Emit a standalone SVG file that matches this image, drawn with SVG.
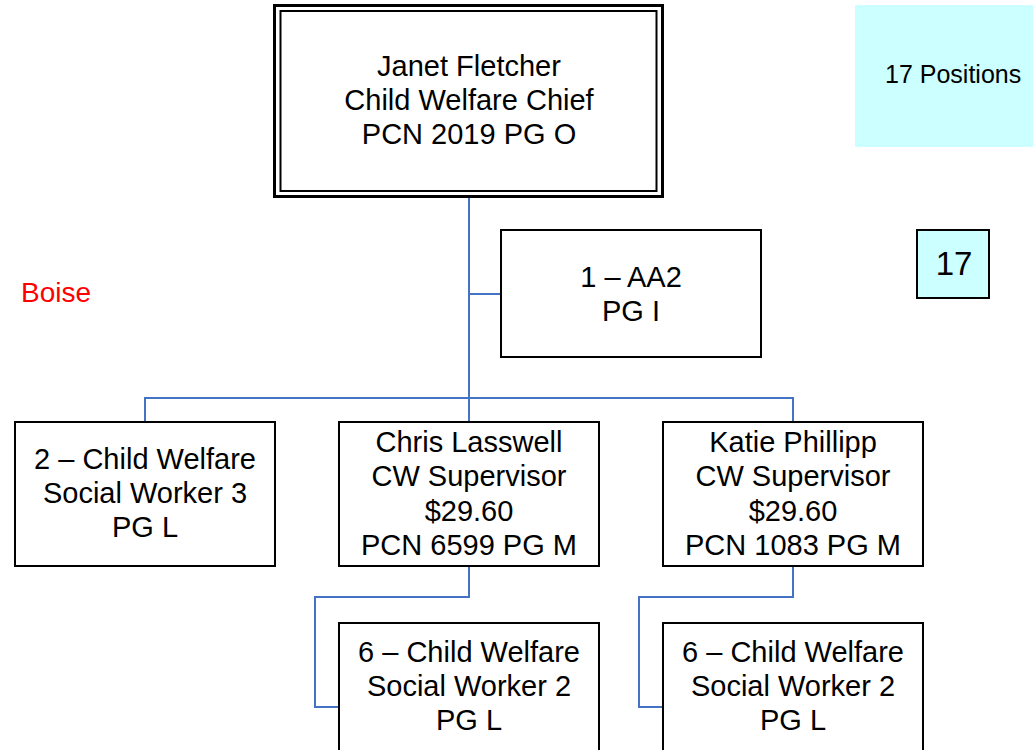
<svg xmlns="http://www.w3.org/2000/svg" width="1033" height="750" viewBox="0 0 1033 750">
  <style>
    .box { fill: #ffffff; stroke: #000000; stroke-width: 2; }
    .t { font-family: "Liberation Sans", Arial, sans-serif; font-size: 29px; fill: #000000; text-anchor: middle; }
    .conn { fill: none; stroke: #4472C4; stroke-width: 2; }
  </style>
  <rect width="1033" height="750" fill="#ffffff"/>

  <!-- reporting lines -->
  <g id="connectors">
    <path class="conn" d="M469,197 V422"/>
    <path class="conn" d="M469,294 H501"/>
    <path class="conn" d="M145,422 V398 H793 V422"/>
    <path class="conn" d="M469,566 V597 H315 V707 H339"/>
    <path class="conn" d="M793,566 V597 H639 V707 H663"/>
  </g>

  <g id="chief">
    <rect x="274.5" y="5.5" width="388" height="191" fill="#ffffff" stroke="#000" stroke-width="3"/>
    <rect x="280.5" y="11" width="376" height="180" fill="none" stroke="#000" stroke-width="2"/>
    <text class="t" x="469" y="76">Janet Fletcher</text>
    <text class="t" x="469" y="110">Child Welfare Chief</text>
    <text class="t" x="469" y="144">PCN 2019 PG O</text>
  </g>

  <g id="positions-note">
    <rect x="855" y="5" width="178" height="142" fill="#CCFFFF"/>
    <text x="885" y="83" font-family="Liberation Sans, Arial, sans-serif" font-size="25" fill="#000">17 Positions</text>
  </g>

  <g id="count">
    <rect x="917" y="230" width="72" height="68" fill="#CCFFFF" stroke="#000" stroke-width="2"/>
    <text x="954" y="275" font-family="Liberation Sans, Arial, sans-serif" font-size="33" fill="#000" text-anchor="middle">17</text>
  </g>

  <g id="location">
    <text x="21" y="302" font-family="Liberation Sans, Arial, sans-serif" font-size="28" fill="#FF0000">Boise</text>
  </g>

  <g id="aa2">
    <rect class="box" x="501" y="230" width="260" height="127"/>
    <text class="t" x="631" y="287">1 – AA2</text>
    <text class="t" x="631" y="321">PG I</text>
  </g>

  <g id="sw3">
    <rect class="box" x="15" y="422" width="260" height="144"/>
    <text class="t" x="145" y="469">2 – Child Welfare</text>
    <text class="t" x="145" y="503">Social Worker 3</text>
    <text class="t" x="145" y="537">PG L</text>
  </g>

  <g id="lasswell">
    <rect class="box" x="339" y="422" width="260" height="144"/>
    <text class="t" x="469" y="452">Chris Lasswell</text>
    <text class="t" x="469" y="486">CW Supervisor</text>
    <text class="t" x="469" y="521">$29.60</text>
    <text class="t" x="469" y="555">PCN 6599 PG M</text>
  </g>

  <g id="phillipp">
    <rect class="box" x="663" y="422" width="260" height="144"/>
    <text class="t" x="793" y="452">Katie Phillipp</text>
    <text class="t" x="793" y="486">CW Supervisor</text>
    <text class="t" x="793" y="521">$29.60</text>
    <text class="t" x="793" y="555">PCN 1083 PG M</text>
  </g>

  <g id="sw2-lasswell">
    <rect class="box" x="339" y="623" width="260" height="140"/>
    <text class="t" x="469" y="662">6 – Child Welfare</text>
    <text class="t" x="469" y="696">Social Worker 2</text>
    <text class="t" x="469" y="730">PG L</text>
  </g>

  <g id="sw2-phillipp">
    <rect class="box" x="663" y="623" width="260" height="140"/>
    <text class="t" x="793" y="662">6 – Child Welfare</text>
    <text class="t" x="793" y="696">Social Worker 2</text>
    <text class="t" x="793" y="730">PG L</text>
  </g>
</svg>
